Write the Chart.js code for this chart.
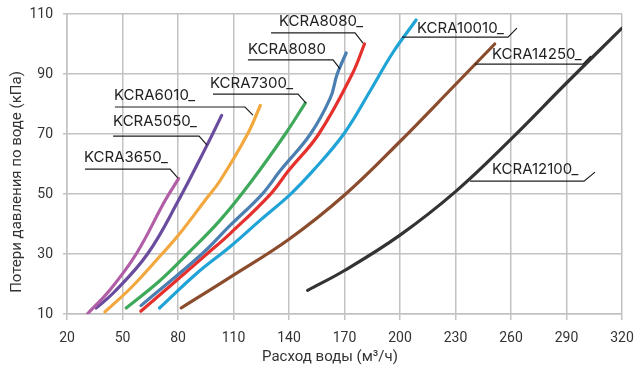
<!DOCTYPE html>
<html lang="ru">
<head>
  <meta charset="UTF-8" />
  <title>Потери давления по воде</title>
  <script src="https://cdn.jsdelivr.net/npm/chart.js"></script>
  <style>
    html, body { margin: 0; padding: 0; background: #fff; }
  </style>
</head>
<body>
  <canvas id="lossChart" width="640" height="372"></canvas>
  <script>
    // flow (m3/h) and pressure loss (kPa)
    const x3650 = [31, 43.3, 57.4, 73.1, 80.3];
    const y3650 = [10, 18.1, 30, 47.9, 55.1];
    const x5050 = [35.7, 45, 63.5, 80.3, 95.7, 103.6];
    const y5050 = [12, 17, 30, 47.9, 66.3, 76.2];
    const x6010 = [40.5, 55, 71.3, 80.3, 94.7, 102.8, 117.6, 124.5];
    const y6010 = [10.7, 19, 30, 36.3, 47.9, 54.5, 70, 79.5];
    const x7300 = [52, 70, 85, 102.8, 120, 138, 148.8];
    const y7300 = [12, 21, 30, 41.3, 54.5, 70, 80.3];
    const x8080 = [60, 92.9, 108.3, 125.4, 135.3, 151.6, 162.4, 166, 170.9];
    const y8080 = [12.8, 30, 39.6, 49.9, 57.8, 70, 82.1, 89.9, 97];
    const x8080b = [59.9, 95.6, 108.3, 129.9, 139.8, 156.1, 174.1, 180.8];
    const y8080b = [10.9, 30, 36.9, 49.9, 57.8, 70, 89.9, 100];
    const x10010 = [70, 90.2, 108.3, 124.5, 140.7, 153, 169.6, 184, 196, 208.7];
    const y10010 = [12, 23.6, 32.5, 41.3, 49.9, 57.8, 70, 84.5, 97, 108];
    const x14250 = [81.7, 108.3, 140.2, 170.5, 200, 230, 251.2];
    const y14250 = [12, 22.3, 35, 49.9, 67.5, 86.5, 100];
    const x12100 = [150.1, 170, 200, 230, 260, 290, 320];
    const y12100 = [17.9, 24.5, 36.3, 50.8, 68.3, 87, 105.3];

    const xTicks = [20, 50, 80, 110, 140, 170, 200, 230, 260, 290, 320];
    const yTicks = [10, 30, 50, 70, 90, 110];

    const names = ['KCRA3650', 'KCRA5050', 'KCRA6010', 'KCRA7300', 'KCRA8080',
                   'KCRA8080_', 'KCRA10010', 'KCRA14250', 'KCRA12100'];
    const xs = [x3650, x5050, x6010, x7300, x8080, x8080b, x10010, x14250, x12100];
    const ys = [y3650, y5050, y6010, y7300, y8080, y8080b, y10010, y14250, y12100];
    const colors = ['#b15ea7', '#6a4c9e', '#f2a83e', '#3fa95b', '#4b7fb1',
                    '#e5302e', '#20a3d6', '#8b4b2d', '#333333'];

    // callout labels: text, where it sits, and the leader line (in axis units)
    const calloutText = ['KCRA3650_', 'KCRA5050_', 'KCRA6010_', 'KCRA7300_', 'KCRA8080',
                         'KCRA8080_', 'KCRA10010_', 'KCRA14250_', 'KCRA12100_'];
    const calloutAt = [[29.2, 60.7], [44.9, 72.7], [45.4, 81.3], [97.3, 85.3], [117.8, 96.7],
                       [134.6, 106], [209.2, 103.7], [249.7, 95], [249.7, 56.7]];
    const calloutLeader = [
      [[29.7, 58.3], [75.7, 58.3], [80, 55.3]],
      [[44.9, 69.3], [91.4, 69.3], [95.7, 66.3]],
      [[45.9, 79], [116.2, 79], [120.5, 76.3]],
      [[98.9, 83.3], [144.9, 83.3], [149.2, 80.3]],
      [[117.8, 94.7], [163.8, 94.7], [167.6, 91.7]],
      [[130.3, 103.7], [175.7, 103.7], [180, 100.3]],
      [[201.1, 102.3], [258.4, 102.3], [263.2, 105.3]],
      [[240.5, 93.3], [298.9, 93.3], [303.2, 96]],
      [[237.8, 54.3], [299.5, 54.3], [305.4, 57.3]]
    ];

    const textFont = 'Roboto, "DejaVu Sans", sans-serif';
    const labelFont = 'Inter, Roboto, sans-serif';

    const callouts = {
      id: 'callouts',
      afterDatasetsDraw(chart) {
        const { ctx, scales: { x, y } } = chart;
        ctx.save();
        ctx.strokeStyle = '#1e1e1e';
        ctx.lineWidth = 1.2;
        ctx.fillStyle = '#222';
        ctx.font = '15px ' + labelFont;
        ctx.textBaseline = 'alphabetic';
        calloutText.forEach((t, i) => {
          ctx.beginPath();
          calloutLeader[i].forEach(([vx, vy], j) => {
            const px = x.getPixelForValue(vx), py = y.getPixelForValue(vy);
            if (j) ctx.lineTo(px, py); else ctx.moveTo(px, py);
          });
          ctx.stroke();
          ctx.fillText(t, x.getPixelForValue(calloutAt[i][0]), y.getPixelForValue(calloutAt[i][1]));
        });
        ctx.restore();
      },
      afterDraw(chart) {
        const { ctx } = chart;
        ctx.save();
        ctx.fillStyle = '#333';
        ctx.font = '15px ' + textFont;
        ctx.textAlign = 'center';
        ctx.textBaseline = 'middle';
        ctx.fillText('Расход воды (м³/ч)', 330, 357);
        ctx.translate(17, 182);
        ctx.rotate(-Math.PI / 2);
        ctx.fillText('Потери давления по воде (кПа)', 0, 0);
        ctx.restore();
      }
    };

    new Chart(document.getElementById('lossChart'), {
      type: 'line',
      data: {
        datasets: names.map((n, i) => ({
          label: n,
          data: xs[i].map((v, k) => ({ x: v, y: ys[i][k] })),
          borderColor: colors[i],
          borderWidth: 3.2,
          borderCapStyle: 'round',
          pointRadius: 0,
          tension: 0.4,
          fill: false
        }))
      },
      options: {
        responsive: false,
        animation: false,
        layout: { padding: { left: 0, right: 18, top: 14, bottom: 0 } },
        plugins: { legend: { display: false }, tooltip: { enabled: false } },
        scales: {
          x: {
            type: 'linear',
            min: 20, max: 320,
            afterBuildTicks: s => { s.ticks = xTicks.map(v => ({ value: v })); },
            afterFit: s => { s.height = 58; s.paddingLeft = 0; s.paddingRight = 0; },
            grid: { color: '#c2c2c2', lineWidth: 1.5, tickLength: 6 },
            border: { color: '#c2c2c2', width: 1.5 },
            ticks: { color: '#333', padding: 10, font: { family: textFont, size: 14 } }
          },
          y: {
            min: 10, max: 110,
            afterBuildTicks: s => { s.ticks = yTicks.map(v => ({ value: v })); },
            afterFit: s => { s.width = 67; s.paddingTop = 0; s.paddingBottom = 0; },
            grid: { color: '#c2c2c2', lineWidth: 1.5, tickLength: 4 },
            border: { color: '#c2c2c2', width: 1.5 },
            ticks: { color: '#333', padding: 10, font: { family: textFont, size: 14 } }
          }
        }
      },
      plugins: [callouts]
    });
  </script>
</body>
</html>
